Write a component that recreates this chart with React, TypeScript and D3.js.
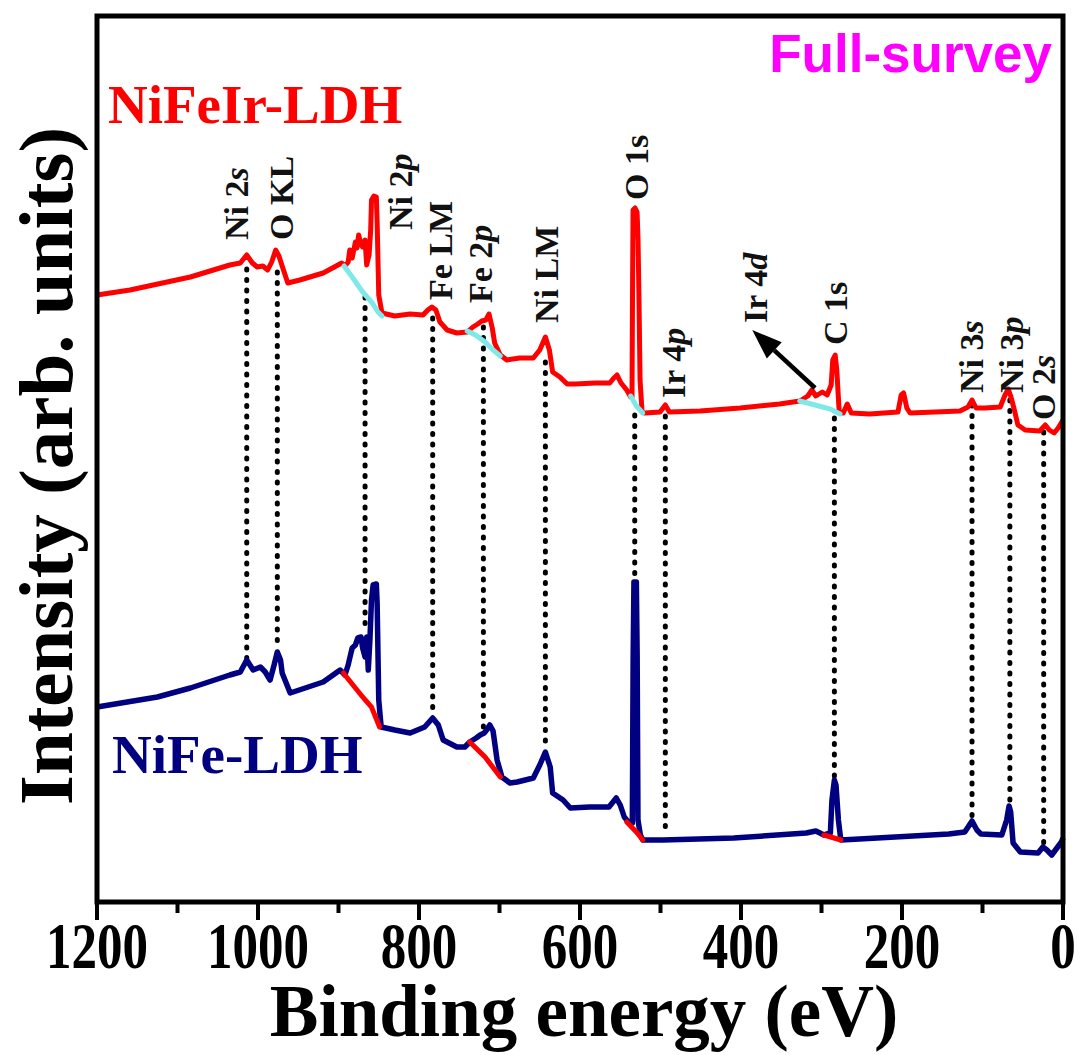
import React from 'react';
import * as d3 from 'd3';

const W = 1080;
const H = 1055;
const PLOT = { left: 97, right: 1063, top: 16, bottom: 902 };

// Axis ticks
const xMajorTicks = [1200, 1000, 800, 600, 400, 200, 0];
const xMinorTicks = [1100, 900, 700, 500, 300, 100];

// NiFeIr-LDH survey spectrum: [binding energy (eV), intensity (arb. units)]
const nifeirSpectrum: [number, number][] = [
  [1200, 607], [1159, 612], [1084, 625], [1035, 637], [1022, 639], [1014, 647], [1007, 639],
  [1001, 635], [994, 636], [988, 632], [983, 640], [978, 652], [974, 646], [970, 636],
  [963, 619], [948, 622], [919, 629], [896, 639], [892, 636], [888, 640], [886, 652],
  [883, 644], [879, 660], [877, 654], [875, 667], [872, 658], [870, 655], [867, 662],
  [865, 637], [862, 647], [860, 672], [859, 702], [856, 706], [853, 705], [852, 680],
  [850, 607], [846, 589], [830, 586], [811, 588], [795, 587], [789, 592], [784, 595],
  [779, 592], [774, 580], [765, 572], [753, 569], [740, 570], [733, 575], [727, 578],
  [722, 581], [717, 582], [713, 588], [709, 574], [706, 559], [699, 547], [691, 542],
  [675, 544], [658, 544], [650, 552], [643, 565], [638, 552], [634, 530], [625, 525],
  [616, 518], [606, 518], [581, 519], [563, 519], [558, 524], [554, 527], [549, 519],
  [542, 512], [537, 505], [535.4, 505], [534.8, 602], [534.1, 692], [531.6, 694],
  [529.1, 690], [527.9, 662], [526.7, 602], [525.4, 522], [522.9, 490], [519, 489],
  [500.6, 490], [494, 497], [489, 490], [451, 491], [401, 494], [352, 498], [327, 501],
  [317, 506], [312, 512], [307, 506], [299, 510], [293, 507], [288, 517], [286, 542],
  [283, 547], [281, 532], [278, 490], [273, 489], [268, 498], [263, 489], [240, 488],
  [205, 490], [201, 507], [198, 509], [194, 494], [190, 489], [128, 491], [118, 495],
  [113, 502], [108, 494], [97, 494], [78, 495], [72, 507], [68, 513], [65, 506],
  [61, 494], [56, 477], [47, 472], [29, 471], [22, 477], [17, 472], [11, 469], [6, 474],
  [0, 482],
];

// Background fits (cyan) on NiFeIr-LDH
const nifeirBackgrounds: [number, number][][] = [
  [[893, 636], [883, 625], [870, 610], [858, 599], [851, 590], [846, 586]],
  [[740, 571], [730, 567], [718, 560], [708, 552], [699, 546]],
  [[537, 506], [530, 496], [522, 489]],
  [[327, 501], [308, 497], [289, 493], [277, 488]],
];

// NiFe-LDH survey spectrum
const nifeSpectrum: [number, number][] = [
  [1200, 195], [1125, 205], [1084, 214], [1035, 227], [1022, 230], [1014, 242], [1006, 232],
  [997, 235], [991, 230], [985, 222], [980, 237], [976, 250], [972, 242], [970, 229],
  [960, 209], [919, 220], [898, 232], [892, 227], [888, 237], [886, 244], [883, 254],
  [879, 257], [876, 264], [872, 265], [870, 254], [867, 245], [865, 265], [863, 232],
  [861, 262], [859, 302], [857, 317], [853, 318], [852, 299], [850, 202], [847, 175],
  [830, 172], [811, 169], [793, 175], [783, 184], [776, 177], [770, 162], [753, 155],
  [743, 155], [737, 160], [729, 164], [724, 167], [719, 169], [716, 172], [712, 177],
  [708, 171], [703, 142], [697, 125], [687, 119], [678, 120], [658, 124], [650, 137],
  [643, 150], [637, 135], [634, 109], [621, 102], [612, 94], [588, 95], [564, 95],
  [555, 104], [550, 97], [545, 85], [539, 79], [535, 79], [534, 242], [533, 320],
  [530, 320], [529, 247], [528, 82], [525, 67], [522, 62], [497, 62], [409, 64],
  [319, 69], [307, 71], [297, 67], [289, 69], [287, 102], [284, 122], [282, 117],
  [279, 82], [276, 62], [253, 63], [142, 68], [122, 70], [113, 81], [107, 72], [102, 68],
  [76, 67], [70, 82], [67, 96], [65, 90], [62, 59], [53, 50], [31, 49], [25, 55],
  [20, 52], [14, 47], [2, 60], [0, 64],
];

// Background fits (red) on NiFe-LDH
const nifeBackgrounds: [number, number][][] = [
  [[894, 229], [880, 215], [870, 205], [859, 195], [849, 175]],
  [[737, 160], [718, 145], [699, 125]],
  [[542, 80], [530, 70], [522, 62]],
  [[297, 67], [276, 62]],
];

// Peak assignments
const peakMain = ['Ni 2', 'O KL', 'Ni 2', 'Fe LM', 'Fe 2', 'Ni LM', 'O 1s', 'Ir 4', 'Ir 4', 'C 1s', 'Ni 3', 'Ni 3', 'O 2'];
const peakOrbital = ['s', '', 'p', '', 'p', '', '', 'p', 'd', '', 's', 'p', 's'];
const peakLineBE = [1014, 976, 867, 783, 720, 643, 532, 494, null, 284, 113, 66, 24];
const peakLineTop = [633, 630, 605, 584, 575, 540, 487, 486, null, 484, 497, 502, 470];
const peakLineBottom = [244, 252, 270, 188, 174, 152, 324, 66, null, 124, 84, 99, 56];
const labelBE = [1012, 957, 809, 759, 709, 627, 516, 469, 368, 268, 99, 50, 10];
const labelI = [662, 662, 672, 602, 599, 579, 702, 504, 579, 557, 509, 509, 482];

// Arrow to Ir 4d
const arrowFrom: [number, number] = [308, 514];
const arrowTo: [number, number] = [386, 572];

const SERIF = '"Liberation Serif", "Times New Roman", serif';
const SANS = '"Liberation Sans", Arial, sans-serif';

export default function App() {
  const x = d3.scaleLinear().domain([1200, 0]).range([PLOT.left, PLOT.right]);
  const y = d3.scaleLinear().domain([0, 886]).range([PLOT.bottom, PLOT.top]);
  const line = d3
    .line<[number, number]>()
    .x((d) => x(d[0]))
    .y((d) => y(d[1]));

  const ax0 = x(arrowFrom[0]);
  const ay0 = y(arrowFrom[1]);
  const ax1 = x(arrowTo[0]);
  const ay1 = y(arrowTo[1]);
  const ang = Math.atan2(ay1 - ay0, ax1 - ax0);
  const headLen = 30;
  const headW = 11;
  const bx = ax1 - headLen * Math.cos(ang);
  const by = ay1 - headLen * Math.sin(ang);
  const head = [
    [ax1, ay1],
    [bx + headW * Math.sin(ang), by - headW * Math.cos(ang)],
    [bx - headW * Math.sin(ang), by + headW * Math.cos(ang)],
  ];

  return (
    <svg width={W} height={H} style={{ display: 'block', position: 'absolute', left: 0, top: 0 }}>
      <rect x={0} y={0} width={W} height={H} fill="#fff" />

      {/* dotted peak lines */}
      {peakLineBE.map((be, i) =>
        be === null ? null : (
          <line
            key={'d' + i}
            x1={x(be)}
            x2={x(be)}
            y1={y(peakLineTop[i] as number)}
            y2={y(peakLineBottom[i] as number)}
            stroke="#000"
            strokeWidth={5}
            strokeDasharray="1 9.5"
            strokeLinecap="round"
          />
        )
      )}

      {/* spectra */}
      <path d={line(nifeirSpectrum) || ''} fill="none" stroke="#ff0000" strokeWidth={5} strokeLinejoin="round" />
      {nifeirBackgrounds.map((seg, i) => (
        <path key={'cb' + i} d={line(seg) || ''} fill="none" stroke="#7fe8e8" strokeWidth={5} strokeLinecap="round" />
      ))}
      <path d={line(nifeSpectrum) || ''} fill="none" stroke="#000080" strokeWidth={5.5} strokeLinejoin="round" />
      {nifeBackgrounds.map((seg, i) => (
        <path key={'rb' + i} d={line(seg) || ''} fill="none" stroke="#ff0000" strokeWidth={5} strokeLinecap="round" />
      ))}

      {/* peak labels */}
      {labelBE.map((be, i) => (
        <text
          key={'l' + i}
          transform={`translate(${x(be)},${y(labelI[i])}) rotate(-90)`}
          fontFamily={SERIF}
          fontWeight="bold"
          fontSize={34}
          fill="#111"
        >
          {peakMain[i]}
          {peakOrbital[i] ? <tspan fontStyle="italic">{peakOrbital[i]}</tspan> : null}
        </text>
      ))}

      {/* arrow */}
      <line x1={ax0} y1={ay0} x2={bx} y2={by} stroke="#000" strokeWidth={4.5} />
      <polygon points={head.map((p) => p.join(',')).join(' ')} fill="#000" />

      {/* series labels */}
      <text x={108} y={123} fontFamily={SERIF} fontWeight="bold" fontSize={55} fill="#ff0000">
        NiFeIr-LDH
      </text>
      <text x={112} y={773} fontFamily={SERIF} fontWeight="bold" fontSize={55} fill="#000080">
        NiFe-LDH
      </text>
      <text x={1052} y={72} textAnchor="end" fontFamily={SANS} fontWeight="bold" fontSize={53} fill="#ff00ff">
        Full-survey
      </text>

      {/* frame */}
      <rect
        x={PLOT.left}
        y={PLOT.top}
        width={PLOT.right - PLOT.left}
        height={PLOT.bottom - PLOT.top}
        fill="none"
        stroke="#000"
        strokeWidth={5}
      />

      {/* x ticks */}
      {xMajorTicks.map((t) => (
        <line key={'M' + t} x1={x(t)} x2={x(t)} y1={PLOT.bottom} y2={PLOT.bottom + 18} stroke="#000" strokeWidth={4} />
      ))}
      {xMinorTicks.map((t) => (
        <line key={'m' + t} x1={x(t)} x2={x(t)} y1={PLOT.bottom} y2={PLOT.bottom + 11} stroke="#000" strokeWidth={4} />
      ))}
      {xMajorTicks.map((t) => (
        <text
          key={'t' + t}
          transform={`translate(${x(t)},${968}) scale(1,1.3)`}
          textAnchor="middle"
          fontFamily={SERIF}
          fontWeight="bold"
          fontSize={51}
          fill="#000"
        >
          {t}
        </text>
      ))}

      {/* axis titles */}
      <text x={(PLOT.left + PLOT.right) / 2 + 4} y={1036} textAnchor="middle" fontFamily={SERIF} fontWeight="bold" fontSize={73} fill="#000">
        Binding energy (eV)
      </text>
      <text
        transform={`translate(72,${466}) rotate(-90)`}
        textAnchor="middle"
        fontFamily={SERIF}
        fontWeight="bold"
        fontSize={77}
        fill="#000"
      >
        Intensity (arb. units)
      </text>
    </svg>
  );
}
